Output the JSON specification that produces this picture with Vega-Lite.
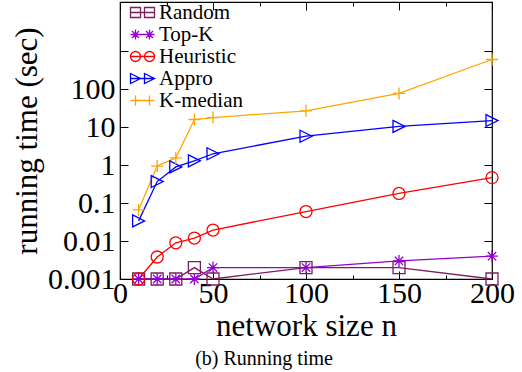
{
  "$schema": "https://vega.github.io/schema/vega-lite/v6.json",
  "width": 372,
  "height": 277,
  "autosize": {"type": "none"},
  "padding": {"left": 120, "top": 2, "right": 30, "bottom": 93},
  "config": {
    "view": {"stroke": "black", "strokeWidth": 1.2},
    "font": "Liberation Serif",
    "axis": {
      "domain": false,
      "grid": false,
      "tickColor": "black",
      "tickWidth": 1,
      "labelColor": "black",
      "titleColor": "black",
      "labelFont": "Liberation Serif",
      "titleFont": "Liberation Serif",
      "labelFontSize": 30,
      "titleFontSize": 31,
      "titleFontWeight": "normal"
    },
    "legend": {
      "title": null, "orient": "none", "legendX": 5, "legendY": 0,
      "labelFont": "Liberation Serif", "labelFontSize": 21, "labelColor": "black", "labelLimit": 300,
      "symbolSize": 100, "symbolStrokeWidth": 1.3, "symbolOpacity": 1, "symbolFillColor": "transparent",
      "labelOffset": 13, "rowPadding": 0, "padding": 0
    }
  },
  "title": {
    "text": "(b) Running time",
    "orient": "bottom",
    "fontSize": 20,
    "font": "Liberation Serif",
    "fontWeight": "normal",
    "color": "black",
    "offset": 8,
    "dx": -42
  },
  "data": {
    "values": [
      {"n": 10, "time": 0.001, "method": "Random"},
      {"n": 20, "time": 0.001, "method": "Random"},
      {"n": 30, "time": 0.001, "method": "Random"},
      {"n": 40, "time": 0.002, "method": "Random"},
      {"n": 50, "time": 0.001, "method": "Random"},
      {"n": 100, "time": 0.002, "method": "Random"},
      {"n": 150, "time": 0.002, "method": "Random"},
      {"n": 200, "time": 0.001, "method": "Random"},
      {"n": 10, "time": 0.001, "method": "Top-K"},
      {"n": 20, "time": 0.001, "method": "Top-K"},
      {"n": 30, "time": 0.001, "method": "Top-K"},
      {"n": 40, "time": 0.001, "method": "Top-K"},
      {"n": 50, "time": 0.002, "method": "Top-K"},
      {"n": 100, "time": 0.002, "method": "Top-K"},
      {"n": 150, "time": 0.003, "method": "Top-K"},
      {"n": 200, "time": 0.004, "method": "Top-K"},
      {"n": 10, "time": 0.001, "method": "Heuristic"},
      {"n": 20, "time": 0.0038, "method": "Heuristic"},
      {"n": 30, "time": 0.009, "method": "Heuristic"},
      {"n": 40, "time": 0.012, "method": "Heuristic"},
      {"n": 50, "time": 0.0195, "method": "Heuristic"},
      {"n": 100, "time": 0.06, "method": "Heuristic"},
      {"n": 150, "time": 0.18, "method": "Heuristic"},
      {"n": 200, "time": 0.47, "method": "Heuristic"},
      {"n": 10, "time": 0.034, "method": "Appro"},
      {"n": 20, "time": 0.37, "method": "Appro"},
      {"n": 30, "time": 0.9, "method": "Appro"},
      {"n": 40, "time": 1.3, "method": "Appro"},
      {"n": 50, "time": 2.0, "method": "Appro"},
      {"n": 100, "time": 5.8, "method": "Appro"},
      {"n": 150, "time": 10.5, "method": "Appro"},
      {"n": 200, "time": 15, "method": "Appro"},
      {"n": 10, "time": 0.066, "method": "K-median"},
      {"n": 20, "time": 0.95, "method": "K-median"},
      {"n": 30, "time": 1.55, "method": "K-median"},
      {"n": 40, "time": 16, "method": "K-median"},
      {"n": 50, "time": 18, "method": "K-median"},
      {"n": 100, "time": 27, "method": "K-median"},
      {"n": 150, "time": 78, "method": "K-median"},
      {"n": 200, "time": 610, "method": "K-median"}
    ]
  },
  "layer": [
    {
      "mark": {"type": "line", "strokeWidth": 1.3},
      "encoding": {
        "x": {
          "field": "n", "type": "quantitative",
          "scale": {"domain": [0, 200], "nice": false, "zero": false},
          "axis": {"orient": "bottom", "values": [0, 50, 100, 150, 200], "tickSize": -8, "labelPadding": 7, "labelFlush": false, "labelOverlap": false, "title": "network size n", "titlePadding": 3}
        },
        "y": {
          "field": "time", "type": "quantitative",
          "scale": {"type": "log", "domain": [0.001, 20000], "nice": false},
          "axis": {"orient": "left", "values": [0.001, 0.01, 0.1, 1, 10, 100, 1000], "tickSize": -8, "labelPadding": 13, "labelFlush": false, "labelOverlap": false, "labelExpr": "datum.value > 500 ? '' : format(datum.value, '~g')", "title": "running time (sec)", "titlePadding": 4}
        },
        "color": {
          "field": "method", "type": "nominal",
          "scale": {"domain": ["Random", "Top-K", "Heuristic", "Appro", "K-median"], "range": ["#7a1f5c", "#9400d3", "#ff0000", "#0000ff", "#ffa500"]}
        }
      }
    },
    {
      "transform": [{"filter": "datum.method === 'Random'"}],
      "mark": {"type": "point", "shape": "M-1,-1L1,-1L1,1L-1,1Z", "filled": false, "size": 144, "strokeWidth": 1.3, "opacity": 1},
      "encoding": {
        "x": {"field": "n", "type": "quantitative", "axis": {"orient": "top", "values": [0, 50, 100, 150, 200], "tickSize": -8, "labels": false, "title": null}},
        "y": {"field": "time", "type": "quantitative", "axis": {"orient": "right", "values": [0.001, 0.01, 0.1, 1, 10, 100, 1000], "tickSize": -8, "labels": false, "title": null}},
        "color": {"field": "method", "type": "nominal"}
      }
    },
    {
      "transform": [{"filter": "datum.method === 'Top-K'"}],
      "mark": {"type": "point", "shape": "M0,-1L0,1M-1,0L1,0M-0.7,-0.7L0.7,0.7M-0.7,0.7L0.7,-0.7", "filled": false, "size": 144, "strokeWidth": 1.3, "opacity": 1},
      "encoding": {
        "x": {"field": "n", "type": "quantitative", "axis": null},
        "y": {"field": "time", "type": "quantitative", "axis": null},
        "color": {"field": "method", "type": "nominal"}
      }
    },
    {
      "transform": [{"filter": "datum.method === 'Heuristic'"}],
      "mark": {"type": "point", "shape": "circle", "filled": false, "size": 144, "strokeWidth": 1.3, "opacity": 1},
      "encoding": {
        "x": {"field": "n", "type": "quantitative", "axis": null},
        "y": {"field": "time", "type": "quantitative", "axis": null},
        "color": {"field": "method", "type": "nominal"}
      }
    },
    {
      "transform": [{"filter": "datum.method === 'Appro'"}],
      "mark": {"type": "point", "shape": "M-1,-1L1,0L-1,1Z", "filled": false, "size": 144, "strokeWidth": 1.3, "opacity": 1},
      "encoding": {
        "x": {"field": "n", "type": "quantitative", "axis": null},
        "y": {"field": "time", "type": "quantitative", "axis": null},
        "color": {"field": "method", "type": "nominal"}
      }
    },
    {
      "transform": [{"filter": "datum.method === 'K-median'"}],
      "mark": {"type": "point", "shape": "M0,-1L0,1M-1,0L1,0", "filled": false, "size": 144, "strokeWidth": 1.3, "opacity": 1},
      "encoding": {
        "x": {"field": "n", "type": "quantitative", "axis": null},
        "y": {"field": "time", "type": "quantitative", "axis": null},
        "color": {"field": "method", "type": "nominal"}
      }
    },
    {
      "mark": {"type": "point", "filled": false, "opacity": 0},
      "encoding": {
        "x": {"field": "n", "type": "quantitative", "axis": {"orient": "bottom", "values": [25, 75, 125, 175], "tickSize": -4, "labels": false, "title": null}},
        "y": {"field": "time", "type": "quantitative", "axis": null},
        "color": {"field": "method", "type": "nominal"},
        "shape": {
          "field": "method", "type": "nominal",
          "scale": {"domain": ["Random", "Top-K", "Heuristic", "Appro", "K-median"], "range": [
            "M-1,0L3.8,0M-1,-1L1,-1L1,1L-1,1ZM1.8,-1L3.8,-1L3.8,1L1.8,1Z",
            "M-1,0L3.8,0M0,-1L0,1M-0.7,-0.7L0.7,0.7M-0.7,0.7L0.7,-0.7M2.8,-1L2.8,1M2.1,-0.7L3.5,0.7M2.1,0.7L3.5,-0.7",
            "M-1,0L3.8,0M1,0A1,1,0,1,1,-1,0A1,1,0,1,1,1,0M3.8,0A1,1,0,1,1,1.8,0A1,1,0,1,1,3.8,0",
            "M-1,0L3.8,0M-1,-1L1,0L-1,1ZM1.8,-1L3.8,0L1.8,1Z",
            "M-1,0L3.8,0M0,-1L0,1M2.8,-1L2.8,1"
          ]}
        }
      }
    },
    {
      "mark": {"type": "point", "opacity": 0},
      "encoding": {
        "x": {"field": "n", "type": "quantitative", "axis": {"orient": "top", "values": [25, 75, 125, 175], "tickSize": -4, "labels": false, "title": null}},
        "y": {"field": "time", "type": "quantitative", "axis": null}
      }
    }
  ],
  "resolve": {"axis": {"x": "independent", "y": "independent"}}
}
